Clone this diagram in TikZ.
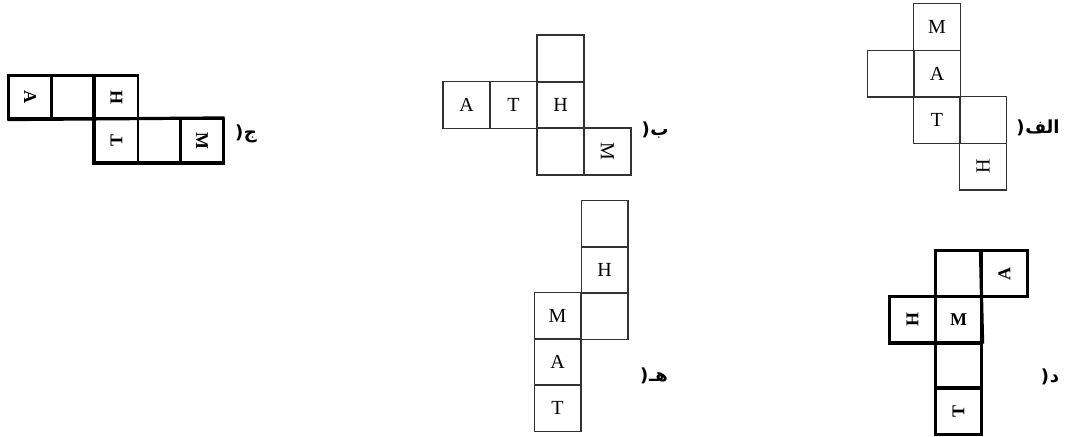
\documentclass[tikz,border=0pt]{standalone}
\usepackage{fontspec}
\setmainfont{Liberation Serif}
\newfontfamily\arabicfont[Script=Arabic]{DejaVu Sans}
\TeXXeTstate=1
\newcommand{\paren}{\hbox{(}\kern0.5pt}
\begin{document}
\begin{tikzpicture}[x=0.75pt,y=-0.75pt,
  thincell/.style={draw=black!80,line width=1.1pt,inner sep=0pt,font=\fontsize{15}{15}\selectfont},
  boldcell/.style={draw=black,line width=1.6pt,inner sep=0pt,font=\fontsize{13.5}{13.5}\selectfont\bfseries},
  heavy/.style={line width=2.4pt},
  lbl/.style={inner sep=0pt,font=\fontsize{13.5}{13.5}\selectfont\arabicfont\bfseries}]
\useasboundingbox (0,0) rectangle (1069,436);
% ---- alef
\begin{scope}[every node/.append style={thincell,minimum size=34.9pt}]
\node (a1) at (937,27) {M};
\node (a2) at (890.5,73.5) {};
\node (a3) at (937,73.5) {A};
\node (a4) at (937,120) {T};
\node (a5) at (983,120) {};
\node (a6) at (983,166.5) {\rotatebox[origin=c]{90}{H}};
\end{scope}
\node[lbl] (la) at (1038,128) {\paren\hbox{\beginR الف\endR}};
% ---- be
\begin{scope}[every node/.append style={thincell,minimum size=35.25pt}]
\node (b1) at (560.5,58.5) {};
\node (b2) at (466.5,105) {A};
\node (b3) at (513.5,105) {T};
\node (b4) at (560.5,105) {H};
\node (b5) at (560.5,151.5) {};
\node (b6) at (607.5,151.5) {\rotatebox[origin=c]{-90}{M}};
\end{scope}
\node[lbl] (lb) at (655,130) {\paren\hbox{\beginR ب\endR}};
% ---- jim
\begin{scope}[every node/.append style={boldcell,minimum size=32.25pt}]
\node (c1) at (30,97) {\rotatebox[origin=c]{-90}{A}};
\node (c2) at (73.5,97) {};
\node (c3) at (116.5,97) {\rotatebox[origin=c]{90}{H}};
\node (c4) at (116.5,140.5) {\rotatebox[origin=c]{90}{T}};
\node (c5) at (159.5,140.5) {};
\node (c6) at (202,140.5) {\rotatebox[origin=c]{-90}{M}};
\end{scope}
\draw[heavy] (c1.south west) -- (c6.north east);
\draw[heavy] (c3.north west) -- (c4.south west) -- (c6.south east);
\node[lbl] (lc) at (246,134) {\paren\hbox{\beginR ج\endR}};
% ---- he
\begin{scope}[every node/.append style={thincell,minimum size=34.9pt}]
\node (e1) at (604.5,224) {};
\node (e2) at (604.5,270) {H};
\node (e3) at (604.5,316) {};
\node (e4) at (557.5,316) {M};
\node (e5) at (557.5,362) {A};
\node (e6) at (557.5,408) {T};
\end{scope}
\node[lbl] (le) at (654,376) {\paren\hbox{\beginR هـ\endR}};
% ---- dal
\begin{scope}[every node/.append style={boldcell,minimum size=34.5pt}]
\node (d1) at (958.5,273.5) {};
\node (d2) at (1004.5,273.5) {\rotatebox[origin=c]{90}{A}};
\node (d3) at (912.5,319.5) {\rotatebox[origin=c]{90}{H}};
\node (d4) at (958.5,319.5) {M};
\node (d5) at (958.5,366) {};
\node (d6) at (958.5,411.5) {\rotatebox[origin=c]{90}{T}};
\end{scope}
\draw[heavy] (d2.north west) -- (d4.south east);
\draw[heavy] (d3.south west) -- (d4.south east);
\draw[heavy] (d6.north west) -- (d6.north east);
\node[lbl] (ld) at (1050,377) {\paren\hbox{\beginR د\endR}};
\end{tikzpicture}
\end{document}
